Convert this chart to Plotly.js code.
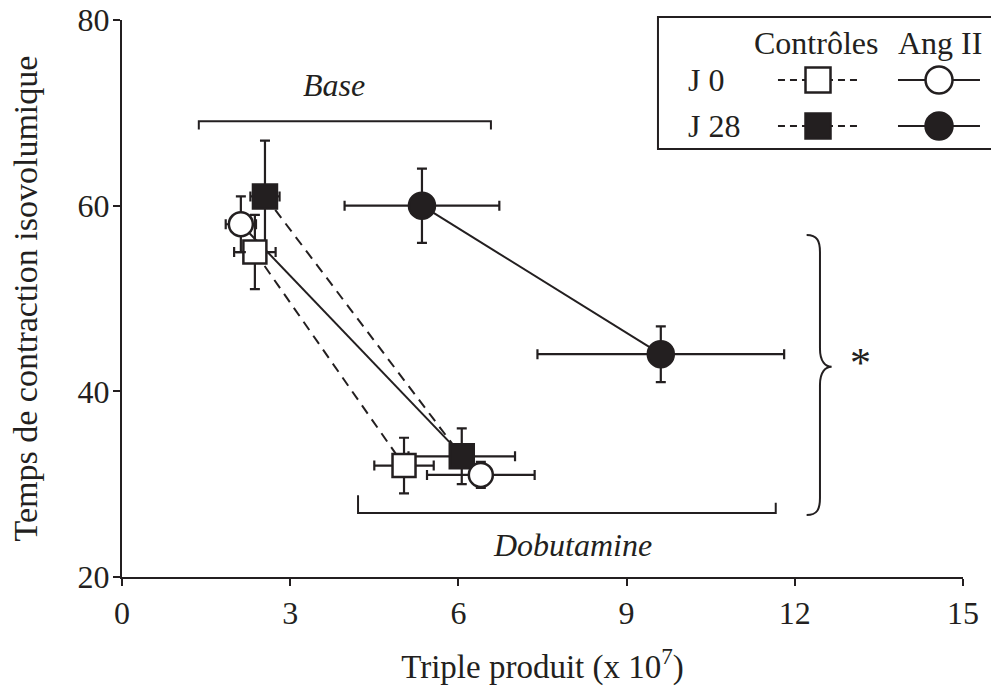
<!DOCTYPE html>
<html>
<head>
<meta charset="utf-8">
<script src="https://cdn.plot.ly/plotly-3.0.1.min.js"></script>
<style>html,body{margin:0;padding:0;background:#fff;}#chart{width:991px;height:686px;}</style>
</head>
<body>
<div id="chart"></div>
<script>
// ---- data ----
const phases = ["Base", "Dobutamine"];
const ctrlJ0_x = [2.37, 5.03];
const ctrlJ0_y = [55, 32];
const ctrlJ0_ex = [0.37, 0.53];
const ctrlJ0_ey = [4, 3];

const ctrlJ28_x = [2.55, 6.06];
const ctrlJ28_y = [61, 33];
const ctrlJ28_ex = [0.26, 0.95];
const ctrlJ28_ey = [6, 3];

const angJ0_x = [2.12, 6.40];
const angJ0_y = [58, 31];
const angJ0_ex = [0.27, 0.96];
const angJ0_ey = [3, 1.4];

const angJ28_x = [5.35, 9.61];
const angJ28_y = [60, 44];
const angJ28_ex = [1.38, 2.2];
const angJ28_ey = [4, 3];

const xTicks = [0, 3, 6, 9, 12, 15];
const yTicks = [20, 40, 60, 80];

const INK = "#231f20";
const FONT = "Liberation Serif, Times New Roman, serif";

function lineTrace(x, y, dash) {
  return {x: x, y: y, type: "scatter", mode: "lines", showlegend: false, hoverinfo: "skip",
          line: {color: INK, width: 2, dash: dash}};
}
function markTrace(x, y, ex, ey, symbol, fill, size) {
  return {x: x, y: y, type: "scatter", mode: "markers", showlegend: false, text: phases,
          marker: {symbol: symbol, size: size, color: fill, line: {color: INK, width: 2.5}},
          error_x: {type: "data", array: ex, visible: true, color: INK, thickness: 2.2, width: 5},
          error_y: {type: "data", array: ey, visible: true, color: INK, thickness: 2.2, width: 5}};
}

const traces = [
  lineTrace(ctrlJ28_x, ctrlJ28_y, "10px,7px"),
  lineTrace(ctrlJ0_x, ctrlJ0_y, "10px,7px"),
  lineTrace(angJ0_x, angJ0_y, "solid"),
  lineTrace(angJ28_x, angJ28_y, "solid"),
  markTrace(ctrlJ28_x, ctrlJ28_y, ctrlJ28_ex, ctrlJ28_ey, "square", INK, 24),
  markTrace(ctrlJ0_x, ctrlJ0_y, ctrlJ0_ex, ctrlJ0_ey, "square", "#ffffff", 23),
  markTrace(angJ0_x, angJ0_y, angJ0_ex, angJ0_ey, "circle", "#ffffff", 24),
  markTrace(angJ28_x, angJ28_y, angJ28_ex, angJ28_ey, "circle", INK, 26)
];

// ---- legend geometry (paper coords) ----
const lg = {x0: 0.6373, x1: 1.04, y0: 0.7684, y1: 1.0054, row1: 0.8923, row2: 0.8097,
            ctrlL: 0.780, ctrlR: 0.8751, ctrlC: 0.8276, angL: 0.9227, angR: 1.0202, angC: 0.9715};
const sqHx = 12.5 / 841, sqHy = 12.5 / 557, ciHx = 13.5 / 841, ciHy = 13.5 / 557;

const shapes = [
  // legend box
  {type: "rect", xref: "paper", yref: "paper", x0: lg.x0, x1: lg.x1, y0: lg.y0, y1: lg.y1,
   line: {color: INK, width: 2}, fillcolor: "rgba(0,0,0,0)"},
  // Base bracket
  {type: "path", xref: "x", yref: "y", path: "M 1.37,68.2 L 1.37,69.1 L 6.58,69.1 L 6.58,68.2",
   line: {color: INK, width: 2}},
  // Dobutamine bracket
  {type: "path", xref: "x", yref: "y", path: "M 4.21,28.8 L 4.21,26.9 L 11.66,26.9 L 11.66,28.0",
   line: {color: INK, width: 2}},
  // curly brace
  {type: "path", xref: "x", yref: "y",
   path: "M 12.211,56.84 C 12.40,56.84 12.449,56.2 12.449,55.0 L 12.449,44.6 C 12.449,43.2 12.55,42.65 12.657,42.65 C 12.55,42.65 12.449,42.1 12.449,40.7 L 12.449,28.5 C 12.449,27.3 12.40,26.68 12.211,26.68",
   line: {color: INK, width: 2}}
];
[lg.row1, lg.row2].forEach(function (ry, i) {
  const fill = i === 0 ? "#ffffff" : INK;
  shapes.push({type: "line", xref: "paper", yref: "paper", x0: lg.ctrlL, x1: lg.ctrlR, y0: ry, y1: ry,
               line: {color: INK, width: 2, dash: "7px,5px"}});
  shapes.push({type: "line", xref: "paper", yref: "paper", x0: lg.angL, x1: lg.angR, y0: ry, y1: ry,
               line: {color: INK, width: 2}});
  shapes.push({type: "rect", xref: "paper", yref: "paper", x0: lg.ctrlC - sqHx, x1: lg.ctrlC + sqHx,
               y0: ry - sqHy, y1: ry + sqHy, line: {color: INK, width: 2.5}, fillcolor: fill});
  shapes.push({type: "circle", xref: "paper", yref: "paper", x0: lg.angC - ciHx, x1: lg.angC + ciHx,
               y0: ry - ciHy, y1: ry + ciHy, line: {color: INK, width: 2.5}, fillcolor: fill});
});

function txt(text, x, y, xref, yref, size, xanchor) {
  return {text: text, x: x, y: y, xref: xref, yref: yref, showarrow: false,
          xanchor: xanchor || "center", yanchor: "middle",
          font: {family: FONT, size: size, color: INK}};
}
const annotations = [
  txt("<i>Base</i>", 3.78, 73.0, "x", "y", 32),
  txt("<i>Dobutamine</i>", 8.04, 23.4, "x", "y", 32),
  txt("*", 13.18, 43.0, "x", "y", 42),
  txt("Contrôles", 0.8252, 0.9587, "paper", "paper", 32),
  txt("Ang II", 0.9727, 0.9587, "paper", "paper", 32),
  txt("J 0", 0.671, lg.row1, "paper", "paper", 32, "left"),
  txt("J 28", 0.671, lg.row2, "paper", "paper", 32, "left")
];

const layout = {
  width: 991, height: 686,
  margin: {l: 122, r: 28, t: 20, b: 109, pad: 0},
  paper_bgcolor: "#ffffff", plot_bgcolor: "#ffffff",
  font: {family: FONT, color: INK, size: 32},
  showlegend: false,
  xaxis: {range: [0, 15], tickvals: xTicks, ticktext: xTicks.map(String), ticks: "outside", ticklen: 7,
          tickwidth: 2, tickcolor: INK, showline: true, linewidth: 2, linecolor: INK,
          showgrid: false, zeroline: false, automargin: false,
          tickfont: {family: FONT, size: 32, color: INK},
          title: {text: "Triple produit (x 10<sup>7</sup>)", font: {family: FONT, size: 33, color: INK}, standoff: 28}},
  yaxis: {range: [20, 80], tickvals: yTicks, ticktext: yTicks.map(String), ticks: "outside", ticklen: 7,
          tickwidth: 2, tickcolor: INK, showline: true, linewidth: 2, linecolor: INK,
          showgrid: false, zeroline: false, automargin: false, ticklabelstandoff: -3,
          tickfont: {family: FONT, size: 32, color: INK},
          title: {text: "Temps de contraction isovolumique", font: {family: FONT, size: 34, color: INK}, standoff: 30}},
  shapes: shapes,
  annotations: annotations
};

Plotly.newPlot("chart", traces, layout, {displayModeBar: false, staticPlot: true});
</script>
</body>
</html>
